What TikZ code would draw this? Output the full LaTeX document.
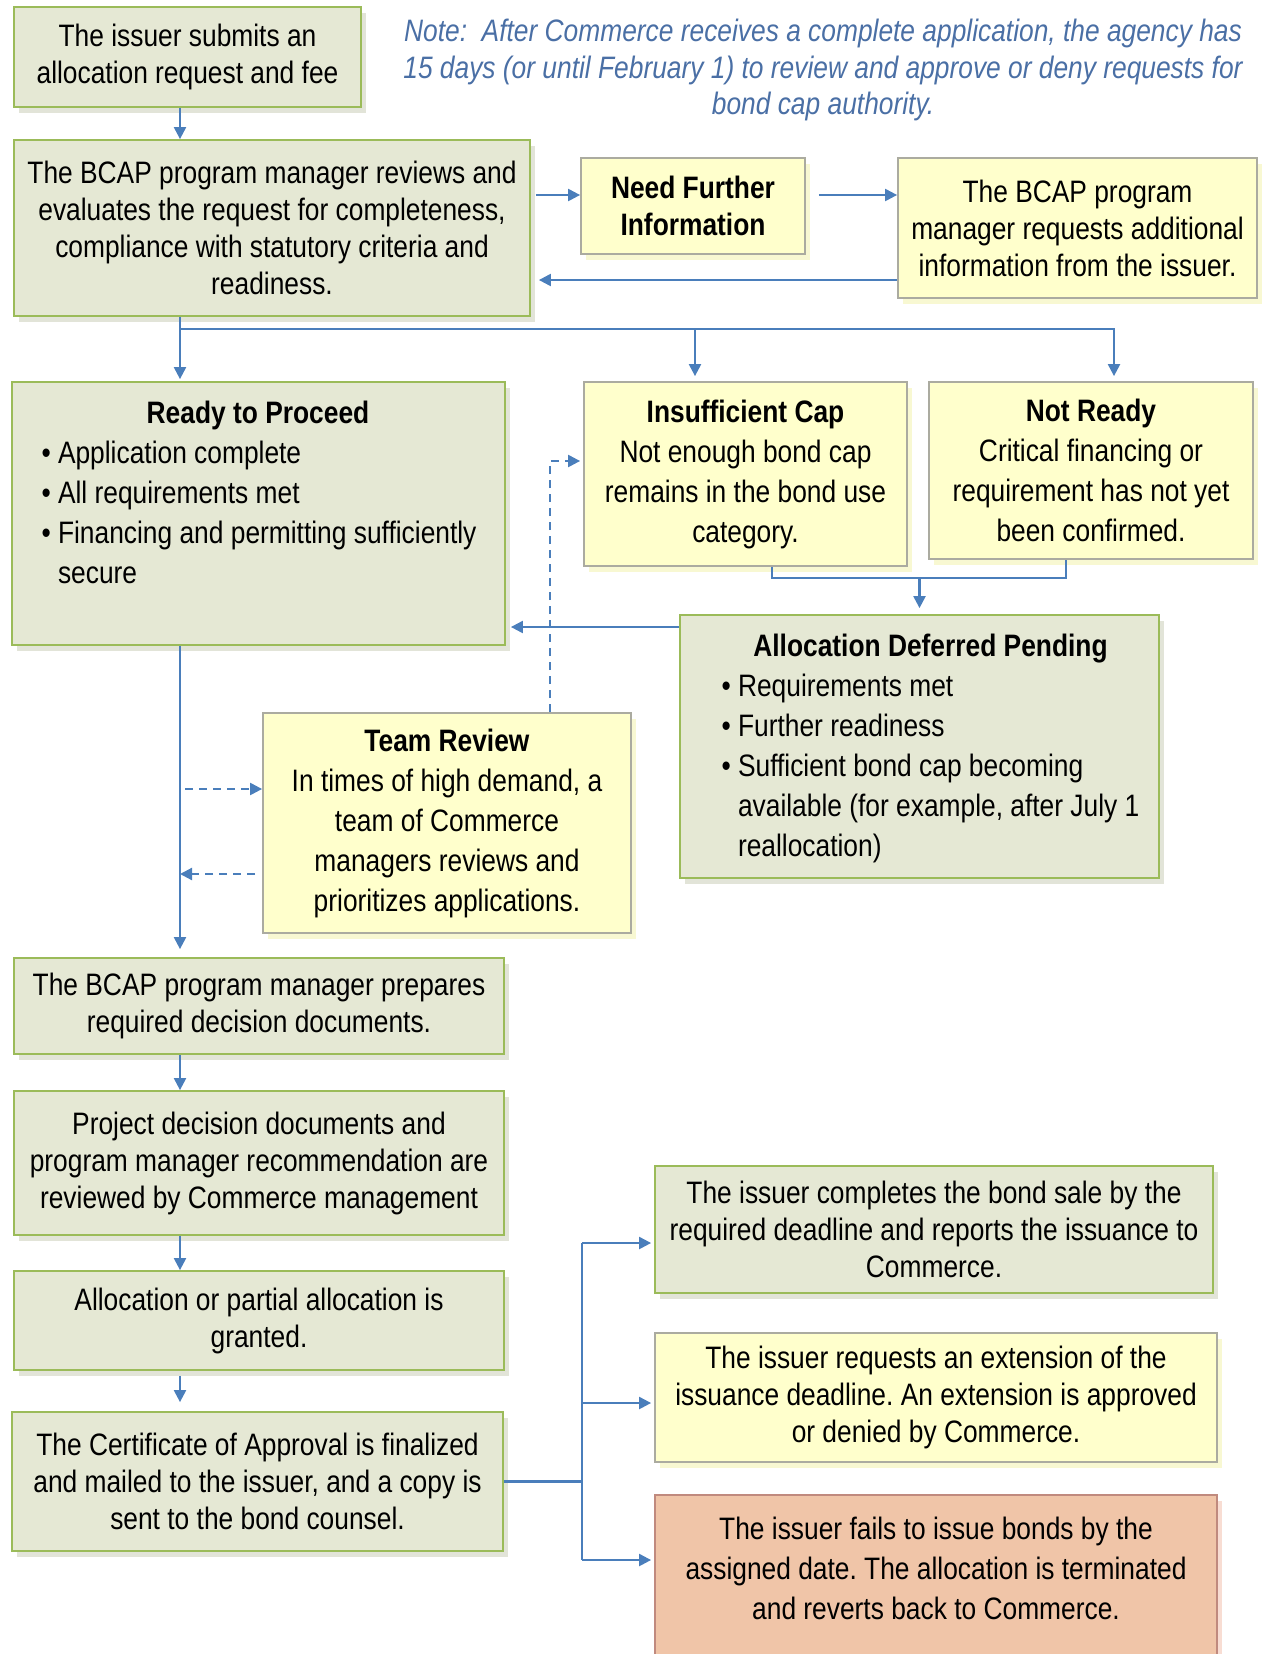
\documentclass[tikz,border=0pt]{standalone}
\usepackage{fontspec}
\setmainfont{Liberation Sans}[FakeStretch=0.85]
\usepackage{xcolor}
\usepackage{tikz}
\usetikzlibrary{arrows.meta,shadows}
\frenchspacing

\definecolor{greenfill}{HTML}{E5E8D4}
\definecolor{greenline}{HTML}{9BBB59}
\definecolor{greenshade}{HTML}{E2E4D8}
\definecolor{yellowfill}{HTML}{FFFFCC}
\definecolor{yellowline}{HTML}{ABABA0}
\definecolor{yellowshade}{HTML}{F8F8D2}
\definecolor{salmonfill}{HTML}{F0C5A8}
\definecolor{salmonline}{HTML}{C08A7E}
\definecolor{salmonshade}{HTML}{F8DDD3}
\definecolor{arrowblue}{HTML}{4A7EBB}
\definecolor{noteblue}{HTML}{4A6FA5}

\begin{document}
\begin{tikzpicture}[x=0.5pt,y=-0.5pt,
		box/.style={rectangle,draw,line width=0.9pt,inner sep=0pt,align=center,font=\fontsize{15.5}{18.5}\selectfont},
		greenbox/.style={box,draw=greenline,fill=greenfill,drop shadow={shadow xshift=2.5pt,shadow yshift=-3pt,fill=greenshade,opacity=1}},
		yellowbox/.style={box,draw=yellowline,fill=yellowfill,drop shadow={shadow xshift=2.5pt,shadow yshift=-3pt,fill=yellowshade,opacity=1}},
		salmonbox/.style={box,draw=salmonline,fill=salmonfill,drop shadow={shadow xshift=2.5pt,shadow yshift=-3pt,fill=salmonshade,opacity=1}},
		roomy/.style={font=\fontsize{15.5}{20}\selectfont},
		flow/.style={draw=arrowblue,line width=1.1pt,-{Triangle[length=6pt,width=6pt]}},
		line/.style={draw=arrowblue,line width=1.1pt},
		dflow/.style={flow,dash pattern=on 4pt off 3pt}]
	\useasboundingbox (0,0) rectangle (1262,1654);

	\node[text=noteblue,align=center,font=\fontsize{15.5}{18.25}\selectfont\itshape] (note) at (823,70) {Note:\ \ After Commerce receives a complete application, the agency has\\15 days (or until February 1) to review and approve or deny requests for\\bond cap authority.};

	\node[greenbox,minimum width=173.5pt,minimum height=50pt] (submit) at (187.5,57) {The issuer submits an\\allocation request and fee};
	\node[greenbox,minimum width=258pt,minimum height=88pt] (review) at (272,228) {The BCAP program manager reviews and\\evaluates the request for completeness,\\compliance with statutory criteria and\\readiness.};
	\node[yellowbox,minimum width=112pt,minimum height=48pt] (needinfo) at (693,206) {\textbf{Need Further}\\\textbf{Information}};
	\node[yellowbox,minimum width=179.5pt,minimum height=70pt] (request) at (1077.5,228) {The BCAP program\\manager requests additional\\information from the issuer.};

	\node[greenbox,minimum width=246.5pt,minimum height=131.5pt] (ready) at (258.5,513.5) {};
	\node[roomy,anchor=north west,inner sep=0pt,align=left] (readytext) at ([xshift=15pt,yshift=-10pt]ready.north west) {\makebox[216.5pt]{\textbf{Ready to Proceed}}\\
		\textbullet~Application complete\\
		\textbullet~All requirements met\\
		\textbullet~Financing and permitting sufficiently\\
		\phantom{\textbullet~}secure};
	\node[yellowbox,roomy,minimum width=161.5pt,minimum height=92pt] (insuf) at (745.5,474) {\textbf{Insufficient Cap}\\Not enough bond cap\\remains in the bond use\\category.};
	\node[yellowbox,roomy,minimum width=162pt,minimum height=88.5pt] (notready) at (1091,470.5) {\textbf{Not Ready}\\Critical financing or\\requirement has not yet\\been confirmed.};

	\node[greenbox,minimum width=239.5pt,minimum height=131.5pt] (deferred) at (919.5,746.5) {};
	\node[roomy,anchor=north west,inner sep=0pt,align=left] (deferredtext) at ([xshift=21pt,yshift=-10pt]deferred.north west) {\makebox[209pt]{\textbf{Allocation Deferred Pending}}\\
		\textbullet~Requirements met\\
		\textbullet~Further readiness\\
		\textbullet~Sufficient bond cap becoming\\
		\phantom{\textbullet~}available (for example, after July 1\\
		\phantom{\textbullet~}reallocation)};
	\node[yellowbox,roomy,minimum width=184pt,minimum height=110pt] (team) at (447,823) {\textbf{Team Review}\\In times of high demand, a\\team of Commerce\\managers reviews and\\prioritizes applications.};

	\node[greenbox,minimum width=245pt,minimum height=48pt] (prepare) at (259,1006) {The BCAP program manager prepares\\required decision documents.};
	\node[greenbox,minimum width=245pt,minimum height=72pt] (project) at (259,1163) {Project decision documents and\\program manager recommendation are\\reviewed by Commerce management};
	\node[greenbox,minimum width=245pt,minimum height=49.5pt] (granted) at (259,1320.5) {Allocation or partial allocation is\\granted.};
	\node[greenbox,minimum width=245.5pt,minimum height=69.5pt] (cert) at (257.5,1481.5) {The Certificate of Approval is finalized\\and mailed to the issuer, and a copy is\\sent to the bond counsel.};

	\node[greenbox,minimum width=279pt,minimum height=63.5pt] (complete) at (934,1229.5) {The issuer completes the bond sale by the\\required deadline and reports the issuance to\\Commerce.};
	\node[yellowbox,minimum width=281pt,minimum height=64.5pt] (extension) at (936,1397.5) {The issuer requests an extension of the\\issuance deadline. An extension is approved\\or denied by Commerce.};
	\node[salmonbox,minimum width=281pt,minimum height=102.5pt] (fails) at (936,1597.5) {};
	\node[roomy,align=center,inner sep=0pt] (failstext) at (936,1568) {The issuer fails to issue bonds by the\\assigned date. The allocation is terminated\\and reverts back to Commerce.};

	\coordinate (spine) at (180,0);
	\coordinate (split) at (180,329);
	\coordinate (joinrow) at (0,578);
	\coordinate (dashx) at (550,0);
	\coordinate (fork) at (582,0);

	\draw[flow] (submit.south -| spine) -- (review.north -| spine);
	\draw[flow,shorten <=2.5pt] (review.east |- 0,195) -- (needinfo.west |- 0,195);
	\draw[flow,shorten <=6.5pt] (needinfo.east |- 0,195) -- (request.west |- 0,195);
	\draw[flow,shorten >=4pt] (request.west |- 0,280) -- (review.east |- 0,280);

	\draw[line] (review.south -| spine) -- (split);
	\draw[flow,shorten >=1pt] (split) -- (ready.north -| spine);
	\draw[flow,shorten >=2.5pt] (split) -| (insuf.north -| 695,0);
	\draw[flow,shorten >=2.5pt] (split) -| (notready.north -| 1114,0);

	\draw[line] (insuf.south -| 772,0) |- (joinrow -| 1066,0) -- (notready.south -| 1066,0);
	\draw[flow,shorten >=3pt] (joinrow -| deferred.north) -- (deferred.north);
	\draw[flow,shorten >=2.5pt] (deferred.west |- 0,627) -- (ready.east |- 0,627);
	\draw[dflow,shorten >=1.5pt] (team.north -| dashx) |- (insuf.west |- 0,461);

	\draw[flow,shorten >=4pt] (ready.south -| spine) -- (prepare.north -| spine);
	\draw[dflow,shorten <=2.5pt] (spine |- 0,789) -- (team.west |- 0,789);
	\draw[dflow,shorten <=3.5pt] (team.west |- 0,874) -- (spine |- 0,874);

	\draw[flow] (prepare.south -| spine) -- (project.north -| spine);
	\draw[flow] (project.south -| spine) -- (granted.north -| spine);
	\draw[flow,shorten <=2.5pt,shorten >=4.5pt] (granted.south -| spine) -- (cert.north -| spine);

	\draw[line] (cert.east) -- (cert.east -| fork);
	\draw[line] (fork |- 0,1243) -- (fork |- 0,1560);
	\draw[flow,shorten >=1.5pt] (fork |- 0,1243) -- (complete.west |- 0,1243);
	\draw[flow,shorten >=1.5pt] (fork |- 0,1403) -- (extension.west |- 0,1403);
	\draw[flow,shorten >=1.5pt] (fork |- 0,1560) -- (fails.west |- 0,1560);
\end{tikzpicture}
\end{document}
